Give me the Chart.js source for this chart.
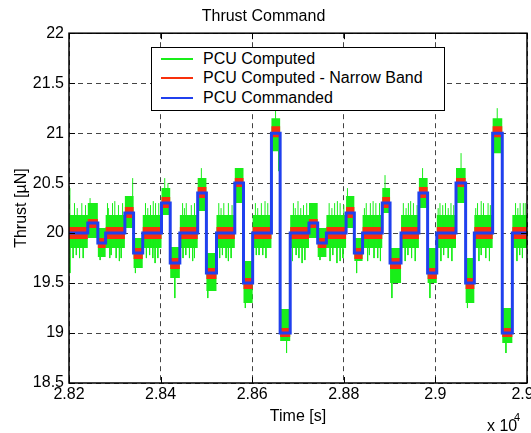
<!DOCTYPE html>
<html>
<head>
<meta charset="utf-8">
<title>Thrust Command</title>
<script src="https://cdn.jsdelivr.net/npm/chart.js@4.4.1/dist/chart.umd.min.js"></script>
<style>
  body { margin: 0; background: #fff; }
  #wrap { position: relative; width: 531px; height: 433px; }
  #legend {
    position: absolute; left: 151px; top: 47px; width: 294px; height: 63.5px;
    box-sizing: border-box; border: 1.5px solid #000; background: #fff; padding-top: 1px;
    font: 16px "Liberation Sans", Arial, sans-serif; color: #000;
  }
  #legend .row { height: 19.5px; display: flex; align-items: center; white-space: nowrap; }
  #legend .swatch { display: inline-block; width: 32px; height: 2px; margin: 0 10.5px 0 8.5px; }
</style>
</head>
<body>
<div id="wrap">
  <canvas id="thrustChart" width="531" height="433"></canvas>
  <div id="legend"></div>
</div>
<script>
// times (s) at which the commanded thrust changes, and the level held from each one
const stepTimes = [28200, 28241, 28263, 28280, 28322, 28341, 28361, 28402, 28421, 28442,
  28481, 28500, 28522, 28562, 28581, 28601, 28642, 28661, 28683, 28724,
  28743, 28762, 28805, 28823, 28841, 28884, 28901, 28925, 28964, 28983,
  29003, 29045, 29066, 29085, 29125, 29146, 29168, 29200];
const commanded = [20, 20.1, 19.9, 20, 20.2, 19.8, 20, 20.3, 19.7, 20,
  20.4, 19.6, 20, 20.5, 19.5, 20, 21, 19, 20, 20.1,
  19.9, 20, 20.2, 19.8, 20, 20.3, 19.7, 20, 20.4, 19.6,
  20, 20.5, 19.5, 20, 21, 19, 20, 20];

// PCU computed thrust: spread of the noisy samples within each step (µN)
const computedLow = [19.85, 19.95, 19.76, 19.85, 20.05, 19.65, 19.85, 20.18, 19.55, 19.85,
  20.22, 19.42, 19.85, 20.3, 19.3, 19.85, 20.82, 18.92, 19.85, 19.95,
  19.76, 19.85, 20.05, 19.72, 19.85, 20.2, 19.5, 19.85, 20.25, 19.5,
  19.85, 20.3, 19.3, 19.85, 20.8, 18.9, 19.85, 19.85];
const computedHigh = [20.18, 20.3, 20.05, 20.18, 20.37, 19.95, 20.18, 20.45, 19.86, 20.18,
  20.55, 19.8, 20.18, 20.65, 19.72, 20.18, 21.15, 19.24, 20.18, 20.3,
  20.05, 20.18, 20.37, 19.95, 20.18, 20.45, 19.85, 20.18, 20.55, 19.85,
  20.18, 20.65, 19.75, 20.18, 21.15, 19.25, 20.18, 20.18];

// isolated samples of the computed thrust that reach outside the band
const spikeTimes = [28202, 28212, 28228, 28236, 28246, 28284, 28295, 28308, 28317, 28339,
  28367, 28378, 28389, 28396, 28409, 28416, 28448, 28456, 28467, 28489,
  28527, 28538, 28548, 28568, 28607, 28620, 28634, 28651, 28658,
  28202, 28209, 28223, 28231, 28268, 28289, 28303, 28314, 28345, 28369,
  28383, 28394, 28431, 28449, 28463, 28474, 28503, 28529, 28543, 28554,
  28585, 28609, 28623, 28675,
  28690, 28700, 28712, 28719, 28688, 28702, 28715, 28730, 28748, 28768,
  28780, 28792, 28800, 28770, 28785, 28798, 28808, 28828, 28849, 28858,
  28870, 28878, 28852, 28866, 28880, 28890, 28905, 28930, 28941, 28952,
  28960, 28934, 28948, 28972, 28988, 29010, 29022, 29034, 29040, 29012,
  29028, 29056, 29070, 29092, 29105, 29115, 29095, 29110, 29135, 29154,
  29175, 29185, 29192, 29178, 29190,
  28218, 28286, 28300, 28372, 28384, 28452, 28474, 28532, 28556, 28612,
  28628, 28694, 28706, 28774, 28786, 28845, 28864, 28936, 28946, 29006,
  29016, 29028, 29088, 29100, 29120, 29180, 29196,
  28216, 28292, 28310, 28376, 28388, 28455, 28470, 28535, 28548, 28615,
  28630, 28696, 28709, 28776, 28792, 28856, 28874, 28940, 28956, 29018,
  29036, 29100, 29118, 29184];
const spikeTips = [20.45, 20.3, 20.3, 20.28, 20.35, 20.3, 20.3, 20.28, 20.3, 20.55,
  20.3, 20.28, 20.3, 20.3, 20.55, 20.5, 20.3, 20.3, 20.28, 20.65,
  20.3, 20.3, 20.3, 20.65, 20.3, 20.3, 20.3, 21.23, 20.62,
  19.6, 19.75, 19.75, 19.75, 19.73, 19.75, 19.75, 19.75, 19.6, 19.75,
  19.75, 19.75, 19.35, 19.75, 19.75, 19.75, 19.35, 19.75, 19.75, 19.75,
  19.25, 19.78, 19.78, 18.8,
  20.3, 20.32, 20.28, 20.3, 19.72, 19.75, 19.73, 20.3, 19.73, 20.3,
  20.3, 20.3, 20.28, 19.72, 19.7, 19.75, 20.45, 19.6, 20.3, 20.3,
  20.3, 20.3, 19.72, 19.75, 19.72, 20.58, 19.35, 20.3, 20.3, 20.3,
  20.28, 19.72, 19.75, 20.65, 19.35, 20.3, 20.3, 20.3, 20.28, 19.72,
  19.75, 20.8, 19.25, 20.3, 20.3, 20.3, 19.72, 19.75, 21.25, 18.8,
  20.3, 20.3, 20.3, 19.72, 19.75,
  20.25, 20.25, 20.32, 20.25, 20.32, 20.25, 20.3, 20.25, 20.28, 20.25,
  20.32, 20.25, 20.25, 20.25, 20.32, 20.25, 20.32, 20.25, 20.32, 20.25,
  20.28, 20.25, 20.25, 20.32, 20.28, 20.25, 20.3,
  19.78, 19.78, 19.72, 19.78, 19.7, 19.78, 19.72, 19.78, 19.72, 19.78,
  19.75, 19.78, 19.7, 19.78, 19.72, 19.78, 19.75, 19.78, 19.72, 19.78,
  19.72, 19.78, 19.72, 19.78];

// narrow band filtered estimate: spread within each step (µN)
const narrowLow = [19.94, 20.05, 19.85, 19.94, 20.15, 19.74, 19.94, 20.25, 19.64, 19.94,
  20.35, 19.54, 19.94, 20.46, 19.44, 19.94, 20.96, 18.96, 19.94, 20.05,
  19.85, 19.94, 20.15, 19.74, 19.94, 20.25, 19.64, 19.94, 20.35, 19.54,
  19.94, 20.46, 19.44, 19.94, 20.96, 18.96, 19.94, 19.94];
const narrowHigh = [20.06, 20.14, 19.95, 20.06, 20.26, 19.85, 20.06, 20.36, 19.75, 20.06,
  20.46, 19.65, 20.06, 20.55, 19.55, 20.06, 21.07, 19.05, 20.06, 20.14,
  19.95, 20.06, 20.26, 19.85, 20.06, 20.36, 19.75, 20.06, 20.46, 19.65,
  20.06, 20.55, 19.55, 20.06, 21.07, 19.05, 20.06, 20.06];

const xTicks = [28200, 28400, 28600, 28800, 29000, 29200];
const yTicks = [18.5, 19, 19.5, 20, 20.5, 21, 21.5, 22];

const GREEN = '#19ee19';
const RED = '#f8300c';
const BLUE = '#2040ee';
const FONT = '"Liberation Sans", Arial, Helvetica, sans-serif';

Chart.defaults.font.family = FONT;
Chart.defaults.font.size = 16;
Chart.defaults.color = '#000';

const stepped = vals => stepTimes.map((t, i) => ({ x: t, y: vals[i] }));

function levelAt(t) {
  let i = 0;
  while (i + 1 < stepTimes.length && stepTimes[i + 1] <= t) i++;
  return commanded[i];
}

// each spike is a vertical stroke from the commanded level to its tip
const spikePoints = [];
spikeTimes
  .map((t, i) => [t, spikeTips[i]])
  .sort((a, b) => a[0] - b[0])
  .forEach(([t, tip]) => {
    spikePoints.push({ x: t, y: levelAt(t) }, { x: t, y: tip }, { x: t, y: null });
  });

// box around the axes with inward tick marks, plus the x10^4 multiplier
const axesFrame = {
  id: 'axesFrame',
  afterDatasetsDraw(chart) {
    const { ctx, chartArea: a, scales } = chart;
    const len = 6;
    ctx.save();
    ctx.strokeStyle = '#000';
    ctx.lineWidth = 1;
    ctx.beginPath();
    xTicks.forEach(v => {
      const px = Math.round(scales.x.getPixelForValue(v)) + 0.5;
      ctx.moveTo(px, a.top); ctx.lineTo(px, a.top + len);
      ctx.moveTo(px, a.bottom); ctx.lineTo(px, a.bottom - len);
    });
    yTicks.forEach(v => {
      const py = Math.round(scales.y.getPixelForValue(v)) + 0.5;
      ctx.moveTo(a.left, py); ctx.lineTo(a.left + len, py);
      ctx.moveTo(a.right, py); ctx.lineTo(a.right - len, py);
    });
    ctx.stroke();
    ctx.lineWidth = 1.5;
    ctx.strokeRect(a.left, a.top, a.right - a.left, a.bottom - a.top);
    ctx.restore();
  },
  afterDraw(chart) {
    const { ctx } = chart;
    ctx.save();
    ctx.fillStyle = '#000';
    ctx.textBaseline = 'alphabetic';
    ctx.font = '16px ' + FONT;
    ctx.fillText('x 10', 487, 431);
    ctx.font = '11px ' + FONT;
    ctx.fillText('4', 514, 421);
    ctx.restore();
  }
};

const chart = new Chart(document.getElementById('thrustChart'), {
  type: 'line',
  data: {
    datasets: [
      {
        label: 'PCU Computed',
        data: stepped(computedHigh),
        stepped: true,
        borderColor: 'rgba(0,0,0,0)',
        borderWidth: 0,
        backgroundColor: GREEN,
        fill: '+1',
        order: 3
      },
      {
        data: stepped(computedLow),
        stepped: true,
        borderColor: 'rgba(0,0,0,0)',
        borderWidth: 0,
        fill: false,
        order: 3
      },
      {
        data: spikePoints,
        borderColor: GREEN,
        borderWidth: 1,
        fill: false,
        spanGaps: false,
        order: 2
      },
      {
        label: 'PCU Computed - Narrow Band',
        data: stepped(narrowHigh),
        stepped: true,
        borderColor: 'rgba(0,0,0,0)',
        borderWidth: 0,
        backgroundColor: RED,
        fill: '+1',
        order: 1
      },
      {
        data: stepped(narrowLow),
        stepped: true,
        borderColor: 'rgba(0,0,0,0)',
        borderWidth: 0,
        fill: false,
        order: 1
      },
      {
        label: 'PCU Commanded',
        data: stepped(commanded),
        stepped: true,
        borderColor: BLUE,
        borderWidth: 3,
        fill: false,
        order: 0
      }
    ]
  },
  options: {
    responsive: false,
    animation: false,
    devicePixelRatio: 1,
    layout: { padding: { left: 0, right: 4, top: 0, bottom: 0 } },
    elements: { point: { radius: 0 }, line: { tension: 0 } },
    plugins: {
      legend: { display: false },
      tooltip: { enabled: false },
      title: {
        display: true,
        text: 'Thrust Command',
        font: { size: 16, weight: 'normal' },
        padding: { top: 7, bottom: 7 }
      }
    },
    scales: {
      x: {
        type: 'linear',
        min: 28200,
        max: 29200,
        afterBuildTicks: s => { s.ticks = xTicks.map(v => ({ value: v })); },
        ticks: {
          padding: 2,
          autoSkip: false,
          maxRotation: 0,
          callback: v => String(Math.round(v / 100) / 100)
        },
        grid: { color: '#444', drawTicks: false },
        border: { display: false, dash: [5, 4] },
        title: { display: true, text: 'Time [s]', padding: { top: 0, bottom: 6.5 } },
        afterFit: s => { s.height = 50; s.paddingLeft = 0; s.paddingRight = 0; }
      },
      y: {
        min: 18.5,
        max: 22,
        afterBuildTicks: s => { s.ticks = yTicks.map(v => ({ value: v })); },
        ticks: { padding: 5, callback: v => String(v) },
        grid: { color: '#444', drawTicks: false },
        border: { display: false, dash: [5, 4] },
        title: { display: true, text: 'Thrust [µN]', padding: { top: 11.5, bottom: 0 } },
        afterFit: s => { s.width = 69; s.paddingTop = 0; s.paddingBottom = 0; }
      }
    }
  },
  plugins: [axesFrame]
});

// legend box laid over the top of the axes
const legend = document.getElementById('legend');
chart.data.datasets.filter(ds => ds.label).forEach(ds => {
  const row = document.createElement('div');
  row.className = 'row';
  const swatch = document.createElement('span');
  swatch.className = 'swatch';
  swatch.style.background = ds.fill ? ds.backgroundColor : ds.borderColor;
  const text = document.createElement('span');
  text.textContent = ds.label;
  row.appendChild(swatch);
  row.appendChild(text);
  legend.appendChild(row);
});
</script>
</body>
</html>
